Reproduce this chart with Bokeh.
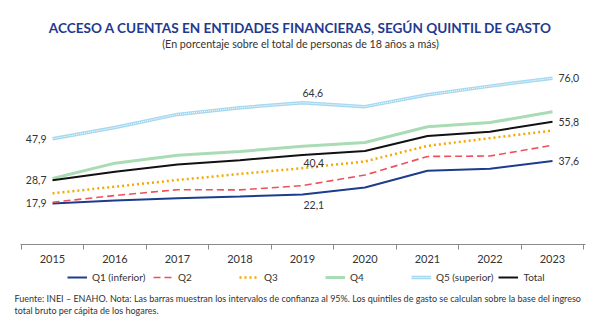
from bokeh.plotting import figure
from bokeh.models import (Range1d, FixedTicker, Legend, LegendItem, ColumnDataSource, Label)
from bokeh.core.properties import value
from bokeh.embed import file_html
from bokeh.resources import INLINE

years = [2015, 2016, 2017, 2018, 2019, 2020, 2021, 2022, 2023]
q1 = [17.9, 19.3, 20.3, 21.1, 22.1, 25.3, 33.1, 34.0, 37.6]
q2 = [18.5, 21.6, 24.3, 24.2, 26.2, 31.1, 39.7, 39.9, 44.9]
q3 = [22.6, 25.7, 28.8, 31.6, 34.3, 37.4, 44.6, 48.2, 51.7]
q4 = [29.5, 36.6, 40.3, 42.0, 44.4, 46.2, 53.5, 55.4, 60.4]
q5 = [47.9, 53.1, 59.2, 62.3, 64.6, 62.8, 68.3, 72.3, 76.0]
total = [28.7, 32.6, 36.0, 38.0, 40.4, 42.2, 49.2, 51.2, 55.8]
series_names = ["Q1 (inferior)", "Q2", "Q3", "Q4", "Q5 (superior)", "Total"]
title_text = "ACCESO A CUENTAS EN ENTIDADES FINANCIERAS, SEGÚN QUINTIL DE GASTO"
subtitle_text = "(En porcentaje sobre el total de personas de 18 años a más)"
foot_lines = ["Fuente: INEI – ENAHO. Nota: Las barras muestran los intervalos de confianza al 95%. Los quintiles de gasto se calculan sobre la base del ingreso",
              "total bruto per cápita de los hogares."]

FONT = "Lato"

def fmt(v):
    return f"{v:.1f}".replace(".", ",")

p = figure(width=600, height=333, x_range=Range1d(2014.168, 2023.768), y_range=Range1d(-42.37, 112.0),
           output_backend="svg", toolbar_location=None,
           min_border_left=0, min_border_right=0, min_border_top=0, min_border_bottom=0)
p.outline_line_color = None
p.grid.grid_line_color = None
p.yaxis.visible = False

xa = p.xaxis[0]
xa.fixed_location = -1.1
xa.bounds = (2014.49, 2023.53)
xa.ticker = FixedTicker(ticks=years, minor_ticks=[y - 0.5 for y in years] + [years[-1] + 0.5])
xa.major_label_overrides = {y: str(y) for y in years}
xa.major_tick_line_color = None
xa.major_tick_in = 0
xa.major_tick_out = 0
xa.minor_tick_in = 0
xa.minor_tick_out = 5
xa.minor_tick_line_color = "#8a8a8a"
xa.axis_line_color = "#8a8a8a"
xa.major_label_text_font = FONT
xa.major_label_text_font_size = "11px"
xa.major_label_text_color = "#333333"
xa.major_label_standoff = 6

src = ColumnDataSource(dict(x=years, q1=q1, q2=q2, q3=q3, q4=q4, q5=q5, total=total))

r_q4 = p.line("x", "q4", source=src, line_color="#a9dcb4", line_width=3)
r_q5a = p.line("x", "q5", source=src, line_color="#a6d8f0", line_width=3.5)
r_q5b = p.line("x", "q5", source=src, line_color="white", line_width=1, line_dash="1 1")
r_q1 = p.line("x", "q1", source=src, line_color="#1d3c8c", line_width=2)
r_q2 = p.line("x", "q2", source=src, line_color="#f0505a", line_width=1.6, line_dash="7 4")
r_q3 = p.line("x", "q3", source=src, line_color="#f5a800", line_width=2.5, line_dash="2 3")
r_tot = p.line("x", "total", source=src, line_color="#111111", line_width=2)

lab_kw = dict(text_font=value(FONT), text_font_size="10.5px", text_color="#333333")
lx = [years[0]] * 3
lv = [q5[0], total[0], q1[0]]
p.text(x=lx, y=lv, text=[fmt(v) for v in lv], text_align="right", text_baseline="middle",
       x_offset=-6, **lab_kw)
rx = [years[-1]] * 3
rv = [q5[-1], total[-1], q1[-1]]
p.text(x=rx, y=rv, text=[fmt(v) for v in rv], text_align="left", text_baseline="middle",
       x_offset=6, **lab_kw)
p.text(x=[years[4]], y=[q5[4]], text=[fmt(q5[4])], text_align="left", text_baseline="middle",
       y_offset=-10, **lab_kw)
p.text(x=[years[4]], y=[total[4]], text=[fmt(total[4])], text_align="left", text_baseline="middle",
       x_offset=1, y_offset=8, **lab_kw)
p.text(x=[years[4]], y=[q1[4]], text=[fmt(q1[4])], text_align="left", text_baseline="middle",
       x_offset=1, y_offset=11, **lab_kw)

legend = Legend(items=[
    LegendItem(label=series_names[0], renderers=[r_q1]),
    LegendItem(label=series_names[1], renderers=[r_q2]),
    LegendItem(label=series_names[2], renderers=[r_q3]),
    LegendItem(label=series_names[3], renderers=[r_q4]),
    LegendItem(label=series_names[4], renderers=[r_q5a, r_q5b]),
    LegendItem(label=series_names[5], renderers=[r_tot]),
], orientation="horizontal", location=(67, 50), glyph_width=20, glyph_height=10,
   label_standoff=5, label_width=56, spacing=5, padding=0, margin=0,
   border_line_color=None, background_fill_alpha=0,
   label_text_font=FONT, label_text_font_size="10px", label_text_color="#333333")
p.add_layout(legend, "center")

p.add_layout(Label(x=300, y=305.5, x_units="screen", y_units="screen", text=title_text,
                   text_align="center", text_baseline="middle", text_font=FONT,
                   text_font_size="13.6px", text_font_style="bold", text_color="#1f3a8f"))
p.add_layout(Label(x=300, y=290.5, x_units="screen", y_units="screen", text=subtitle_text,
                   text_align="center", text_baseline="middle", text_font=FONT,
                   text_font_size="10.7px", text_color="#333333"))

foot_kw = dict(x_units="screen", y_units="screen", text_font=FONT, text_font_size="9px",
               text_color="#333333", text_baseline="middle")
p.add_layout(Label(x=14, y=35, text=foot_lines[0], **foot_kw))
p.add_layout(Label(x=14, y=23, text=foot_lines[1], **foot_kw))

open("out.html", "w").write(file_html(p, INLINE))
